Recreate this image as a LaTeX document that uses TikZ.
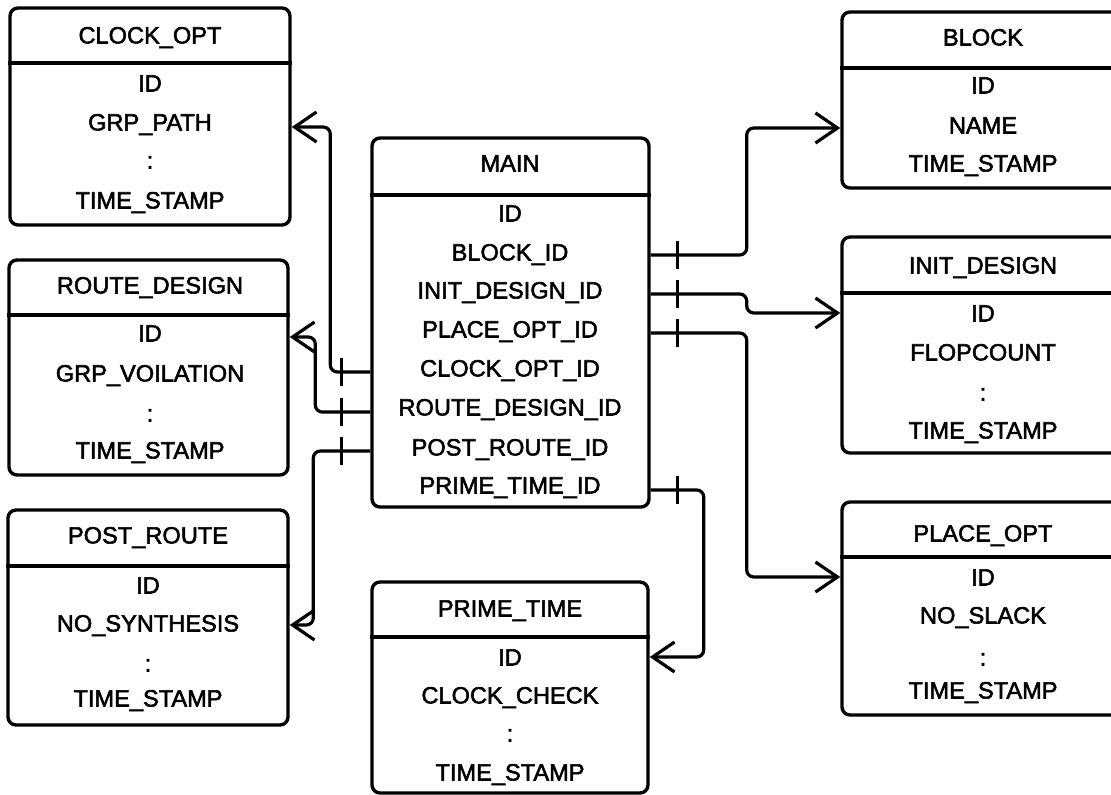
\documentclass[tikz,border=0pt]{standalone}
\usepackage{fontspec}
\setmainfont{Liberation Sans}[FakeBold=2.2]
\usetikzlibrary{arrows.meta,fit,calc}
\begin{document}
\begin{tikzpicture}[x=0.5pt,y=-0.5pt,
  tbl/.style={draw, line width=1.7pt, rounded corners=4pt, inner sep=0pt},
  fld/.style={inner sep=0pt, text height=8.5pt, text depth=0pt,
    font=\fontsize{11.8}{14}\selectfont},
  rule/.style={line width=1.7pt},
  link/.style={line width=1.6pt, rounded corners=3.5pt,
    -{Straight Barb[length=11pt,width=15pt,line width=1.6pt]}},
  tickbar/.style={line width=1.6pt}]
\useasboundingbox (0,0) rectangle (1111,795);

% ---------- tables ----------
% CLOCK_OPT
\node[tbl, fit={(10,8) (290,225)}] (clk) {};
\draw[rule] (clk.west |- 0,63) -- (clk.east |- 0,63);
\node[fld] (clk-h) at (150,35)  {CLOCK\_OPT};
\node[fld] (clk-1) at (150,83)  {ID};
\node[fld] (clk-2) at (150,122) {GRP\_PATH};
\node[fld] (clk-3) at (150,160) {:};
\node[fld] (clk-4) at (150,200) {TIME\_STAMP};

% ROUTE_DESIGN
\node[tbl, fit={(9,260) (288,475)}] (rte) {};
\draw[rule] (rte.west |- 0,315) -- (rte.east |- 0,315);
\node[fld] (rte-h) at (150,285) {ROUTE\_DESIGN};
\node[fld] (rte-1) at (150,333) {ID};
\node[fld] (rte-2) at (150,373) {GRP\_VOILATION};
\node[fld] (rte-3) at (150,413) {:};
\node[fld] (rte-4) at (150,450) {TIME\_STAMP};

% POST_ROUTE
\node[tbl, fit={(8,510) (288,725)}] (pst) {};
\draw[rule] (pst.west |- 0,566) -- (pst.east |- 0,566);
\node[fld] (pst-h) at (148,535) {POST\_ROUTE};
\node[fld] (pst-1) at (148,585) {ID};
\node[fld] (pst-2) at (148,623) {NO\_SYNTHESIS};
\node[fld] (pst-3) at (148,663) {:};
\node[fld] (pst-4) at (148,698) {TIME\_STAMP};

% MAIN
\node[tbl, fit={(372,138) (649,507)}] (main) {};
\draw[rule] (main.west |- 0,195) -- (main.east |- 0,195);
\node[fld] (m-h)   at (510,163) {MAIN};
\node[fld] (m-id)  at (510,213) {ID};
\node[fld] (m-blk) at (510,252) {BLOCK\_ID};
\node[fld] (m-ini) at (510,290) {INIT\_DESIGN\_ID};
\node[fld] (m-plc) at (510,329) {PLACE\_OPT\_ID};
\node[fld] (m-clk) at (510,368) {CLOCK\_OPT\_ID};
\node[fld] (m-rte) at (510,407) {ROUTE\_DESIGN\_ID};
\node[fld] (m-pst) at (510,447) {POST\_ROUTE\_ID};
\node[fld] (m-prm) at (510,485) {PRIME\_TIME\_ID};

% PRIME_TIME
\node[tbl, fit={(372,582) (648,793)}] (prm) {};
\draw[rule] (prm.west |- 0,637) -- (prm.east |- 0,637);
\node[fld] (prm-h) at (510,608) {PRIME\_TIME};
\node[fld] (prm-1) at (510,657) {ID};
\node[fld] (prm-2) at (510,695) {CLOCK\_CHECK};
\node[fld] (prm-3) at (510,733) {:};
\node[fld] (prm-4) at (510,772) {TIME\_STAMP};

% BLOCK
\node[tbl, fit={(842,12) (1124,188)}] (blk) {};
\draw[rule] (blk.west |- 0,68) -- (blk.east |- 0,68);
\node[fld] (blk-h) at (983,37)  {BLOCK};
\node[fld] (blk-1) at (983,85)  {ID};
\node[fld] (blk-2) at (983,125) {NAME};
\node[fld] (blk-3) at (983,163) {TIME\_STAMP};

% INIT_DESIGN
\node[tbl, fit={(842,237) (1124,453)}] (ini) {};
\draw[rule] (ini.west |- 0,293) -- (ini.east |- 0,293);
\node[fld] (ini-h) at (983,265) {INIT\_DESIGN};
\node[fld] (ini-1) at (983,313) {ID};
\node[fld] (ini-2) at (983,352) {FLOPCOUNT};
\node[fld] (ini-3) at (983,392) {:};
\node[fld] (ini-4) at (983,430) {TIME\_STAMP};

% PLACE_OPT
\node[tbl, fit={(842,502) (1124,715)}] (plc) {};
\draw[rule] (plc.west |- 0,557) -- (plc.east |- 0,557);
\node[fld] (plc-h) at (983,533) {PLACE\_OPT};
\node[fld] (plc-1) at (983,577) {ID};
\node[fld] (plc-2) at (983,615) {NO\_SLACK};
\node[fld] (plc-3) at (983,657) {:};
\node[fld] (plc-4) at (983,690) {TIME\_STAMP};

% ---------- relationship lines ----------
\coordinate (s-clk) at ($(main.west |- m-clk)+(0,4)$);
\coordinate (s-rte) at ($(main.west |- m-rte)+(0,5)$);
\coordinate (s-pst) at ($(main.west |- m-pst)+(0,4)$);
\coordinate (s-blk) at ($(main.east |- m-blk)+(0,3)$);
\coordinate (s-ini) at ($(main.east |- m-ini)+(0,4)$);
\coordinate (s-plc) at ($(main.east |- m-plc)+(0,4)$);
\coordinate (s-prm) at ($(main.east |- m-prm)+(0,5)$);

\draw[link] (s-clk) -- ++(-40,0) |- (clk.east |- 0,127);
\draw[link] (s-rte) -- ++(-55,0) |- (rte.east |- 0,337);
\draw[link] (s-pst) -- ++(-57,0) |- (pst.east |- 0,625);
\draw[link] (s-blk) -- ++(96,0)  |- (blk.west |- 0,128);
\draw[link] (s-ini) -- ++(96,0)  |- (ini.west |- 0,313);
\draw[link] (s-plc) -- ++(96,0)  |- (plc.west |- 0,577);
\draw[link] (s-prm) -- ++(53,0)  |- (prm.east |- 0,657);

% single bars marking the "one" end at MAIN
\foreach \s in {s-clk,s-rte,s-pst}
  \draw[tickbar] ($(\s)+(-29,-14)$) -- ++(0,28);
\foreach \s in {s-blk,s-ini,s-plc,s-prm}
  \draw[tickbar] ($(\s)+(27,-14)$) -- ++(0,28);
\end{tikzpicture}
\end{document}
